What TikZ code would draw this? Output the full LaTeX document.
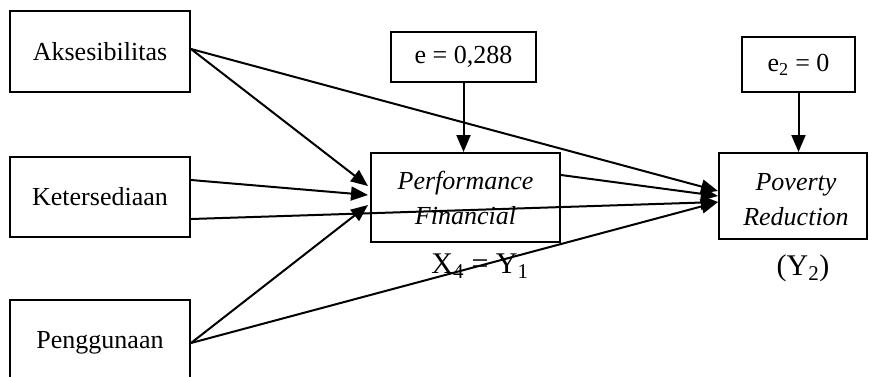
\documentclass[tikz,border=0pt]{standalone}
\usepackage{fontspec}
\setmainfont{Liberation Serif}
\usetikzlibrary{arrows.meta,calc}
\begin{document}
\begin{tikzpicture}[x=1pt,y=-1pt,
  box/.style={draw,line width=2pt,rectangle,inner sep=0pt,align=center,
    font=\fontsize{26}{35}\selectfont},
  txt/.style={inner sep=0pt,align=center,font=\fontsize{26}{35}\selectfont},
  lbl/.style={inner sep=0pt,font=\fontsize{30}{34}\selectfont},
  arr/.style={line width=2pt,-{Triangle[length=17pt,width=14pt]}}]
\clip (0,0) rectangle (869,376);
\fill[white] (0,0) rectangle (869,376);
\node[box,minimum width=180pt,minimum height=81pt] (A) at (100,51.5) {Aksesibilitas};
\node[box,minimum width=180pt,minimum height=80pt] (K) at (100,197) {Ketersediaan};
\node[box,minimum width=180pt,minimum height=86pt] (P) at (100,343) {Penggunaan};
\node[box,minimum width=145pt,minimum height=50pt] (E) at (463.5,57) {e = 0,288};
\node[box,minimum width=189pt,minimum height=89pt] (F) at (465.5,197.5) {\itshape Performance\\\itshape Financial};
\node[box,minimum width=113pt,minimum height=55pt] (E2) at (798.5,64.5) {e\textsubscript{2} = 0};
\node[box,minimum width=148pt,minimum height=86pt] (R) at (793,196) {};
\node[txt] (Rt) at (796,200) {\itshape Poverty\\\itshape Reduction};
\node[lbl] (L1) at (480,266) {X\textsubscript{4} = Y\textsubscript{1}};
\node[lbl] (L2) at (803,268) {(Y\textsubscript{2})};
\draw[arr] ($(A.east)+(0,-2.5)$) -- ($(F.west)+(-2,-11.5)$);
\draw[arr] ($(A.east)+(0,-2.5)$) -- ($(R.west)+(0,-5)$);
\draw[arr] ($(K.east)+(0,-17)$) -- ($(F.west)+(-2,-2.5)$);
\draw[arr] ($(K.east)+(0,22)$) -- ($(R.west)+(0,6)$);
\draw[arr] (P.east) -- ($(F.west)+(-2,7.5)$);
\draw[arr] (P.east) -- ($(R.west)+(0,6)$);
\draw[arr] ($(F.east)+(0,-22.5)$) -- ($(R.west)+(0,0)$);
\draw[arr] (E.south) -- (E.south |- F.north);
\draw[arr] (E2.south) -- (E2.south |- R.north);
\end{tikzpicture}
\end{document}
